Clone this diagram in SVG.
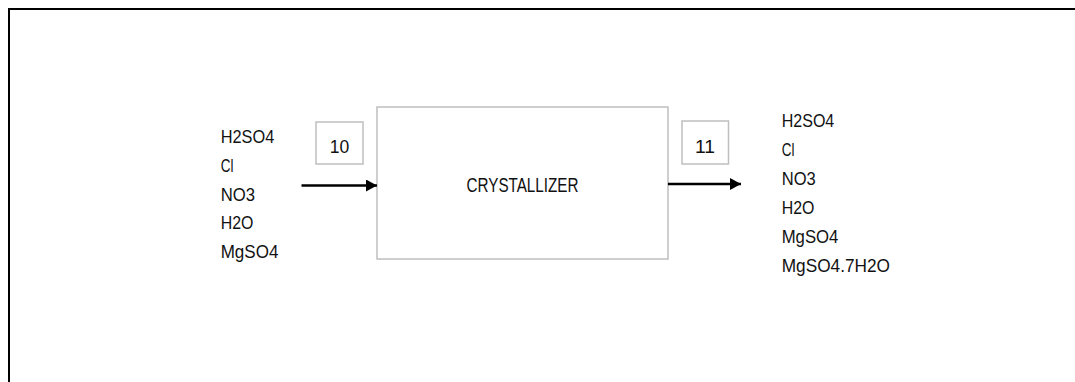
<svg xmlns="http://www.w3.org/2000/svg" width="1075" height="382" viewBox="0 0 1075 382">
<defs>
<style>
.t{font-family:"Liberation Sans",Arial,sans-serif;font-size:19px;fill:#111}
.box{fill:#fff;stroke:#bfbfbf;stroke-width:1.5}
.conn{stroke:#000;stroke-width:2.5;fill:none}
</style>
<marker id="ah" markerUnits="userSpaceOnUse" markerWidth="12" markerHeight="14" refX="11" refY="6" orient="auto">
<path d="M0,0 L11,6 L0,12 Z" fill="#000"/>
</marker>
</defs>
<rect x="0" y="0" width="1075" height="382" fill="#fff"/>
<path d="M9,390 L9,9 L1080,9" fill="none" stroke="#000" stroke-width="2"/>
<g id="crystallizer">
<rect class="box" x="377" y="107" width="291" height="152"/>
<text class="t" x="522.5" y="191.5" text-anchor="middle" style="font-size:20px" textLength="112" lengthAdjust="spacingAndGlyphs">CRYSTALLIZER</text>
</g>
<g id="stream10">
<rect class="box" x="316" y="122" width="47" height="42"/>
<text class="t" x="339.5" y="153" text-anchor="middle" textLength="19.5" lengthAdjust="spacingAndGlyphs">10</text>
</g>
<g id="stream11">
<rect class="box" x="682" y="121" width="46.5" height="43"/>
<text class="t" x="705" y="152.5" text-anchor="middle" textLength="20" lengthAdjust="spacingAndGlyphs">11</text>
</g>
<g id="feed">
<text class="t" x="220.7" y="142.7" textLength="53.6" lengthAdjust="spacingAndGlyphs">H2SO4</text>
<text class="t" x="220.7" y="171.5" textLength="12.7" lengthAdjust="spacingAndGlyphs">Cl</text>
<text class="t" x="220.7" y="200.5" textLength="34.3" lengthAdjust="spacingAndGlyphs">NO3</text>
<text class="t" x="220.7" y="229.3" textLength="32.7" lengthAdjust="spacingAndGlyphs">H2O</text>
<text class="t" x="220.7" y="258.3" textLength="57.7" lengthAdjust="spacingAndGlyphs">MgSO4</text>
</g>
<g id="product">
<text class="t" x="781.7" y="127" textLength="52.6" lengthAdjust="spacingAndGlyphs">H2SO4</text>
<text class="t" x="781.7" y="156" textLength="12.7" lengthAdjust="spacingAndGlyphs">Cl</text>
<text class="t" x="781.7" y="185" textLength="34" lengthAdjust="spacingAndGlyphs">NO3</text>
<text class="t" x="781.7" y="214" textLength="32.7" lengthAdjust="spacingAndGlyphs">H2O</text>
<text class="t" x="781.7" y="243" textLength="56.7" lengthAdjust="spacingAndGlyphs">MgSO4</text>
<text class="t" x="781.7" y="272" textLength="108.3" lengthAdjust="spacingAndGlyphs">MgSO4.7H2O</text>
</g>
<g id="connectors">
<line class="conn" x1="301.5" y1="185.5" x2="377" y2="185.5" marker-end="url(#ah)"/>
<line class="conn" x1="668" y1="184" x2="741" y2="184" marker-end="url(#ah)"/>
</g>
</svg>
